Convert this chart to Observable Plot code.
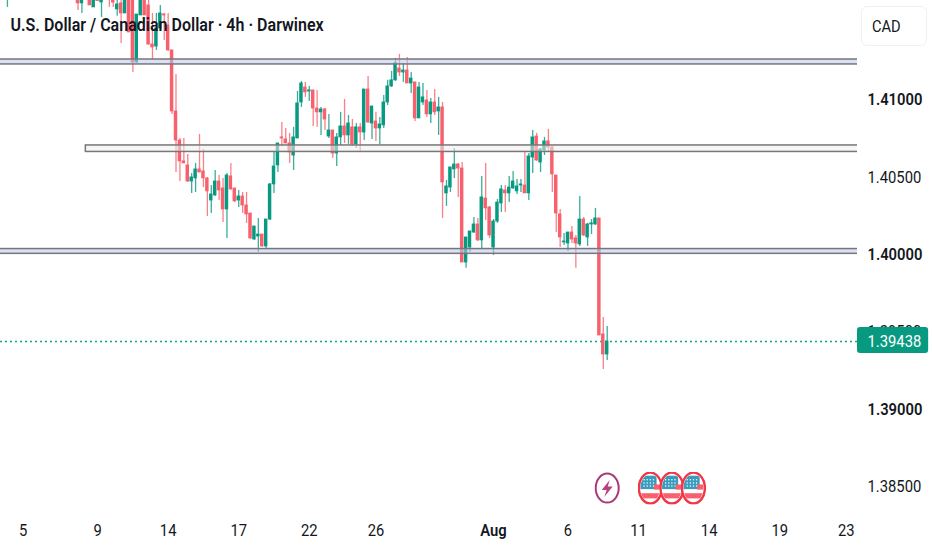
<!DOCTYPE html>
<html><head><meta charset="utf-8">
<script src="https://cdn.jsdelivr.net/npm/d3@7"></script>
<script src="https://cdn.jsdelivr.net/npm/@observablehq/plot@0.6"></script>
<style>
html,body{margin:0;padding:0;background:#fff;overflow:hidden;width:932px;height:550px}
#wrap{position:relative;width:932px;height:550px}
#cad{position:absolute;left:861px;top:6px;width:66px;height:40px;box-sizing:border-box;border:1px solid #f0f0f0;border-radius:6px;font:17px Roboto,sans-serif;color:#131722;line-height:39px;padding-left:10px}
#cad span{display:inline-block;transform:scaleX(.86);transform-origin:left center}
</style></head><body>
<div id="wrap"><div id="chart"></div><div id="cad"><span>CAD</span></div></div>
<script>
// Candles, 4h bars. barIndex counts trading bars, open/high/low/close are prices.
const barIndex = [-5, ...d3.range(13, 149)];
const open = [1.41680,1.41700,1.41625,1.41700,1.41720,1.41599,1.41700,1.41631,1.41720,1.41680,1.41650,1.41586,1.41625,1.41560,1.41660,1.41660,1.41243,1.41547,1.41660,1.41612,1.41359,1.41346,1.41463,1.41553,1.41482,1.41321,1.40926,1.40738,1.40603,1.40577,1.40473,1.40493,1.40551,1.40538,1.40493,1.40350,1.40383,1.40473,1.40428,1.40292,1.40506,1.40428,1.40350,1.40376,1.40318,1.40266,1.40098,1.40117,1.40130,1.40053,1.40227,1.40454,1.40577,1.40758,1.40745,1.40719,1.40641,1.40751,1.40984,1.41081,1.41055,1.41062,1.40945,1.40920,1.40939,1.40764,1.40803,1.40654,1.40758,1.40829,1.40771,1.40823,1.40713,1.40823,1.40790,1.41068,1.40848,1.40861,1.40816,1.40836,1.40984,1.41088,1.41127,1.41204,1.41178,1.41191,1.41107,1.41114,1.40881,1.40984,1.40997,1.40907,1.40984,1.40926,1.40952,1.40396,1.40434,1.40551,1.40583,1.40557,1.39949,1.40046,1.40143,1.40195,1.40092,1.40363,1.40305,1.40046,1.40214,1.40331,1.40415,1.40396,1.40428,1.40409,1.40447,1.40447,1.40396,1.40628,1.40764,1.40596,1.40674,1.40732,1.40693,1.40512,1.40260,1.40079,1.40072,1.40143,1.40105,1.40066,1.40227,1.40111,1.40195,1.40195,1.40234,1.39484,1.39354];
const high = [1.41720,1.41720,1.41720,1.41730,1.41730,1.41710,1.41710,1.41720,1.41730,1.41690,1.41680,1.41650,1.41650,1.41680,1.41680,1.41680,1.41553,1.41680,1.41680,1.41644,1.41560,1.41560,1.41612,1.41560,1.41560,1.41321,1.41165,1.40751,1.40751,1.40648,1.40525,1.40590,1.40777,1.40680,1.40499,1.40447,1.40544,1.40512,1.40493,1.40525,1.40590,1.40428,1.40415,1.40402,1.40402,1.40266,1.40182,1.40234,1.40130,1.40227,1.40460,1.40661,1.40719,1.40855,1.40816,1.40784,1.40823,1.41055,1.41120,1.41114,1.41088,1.41062,1.41062,1.40952,1.40945,1.40907,1.40803,1.40784,1.40920,1.41004,1.40900,1.40874,1.40848,1.40848,1.41068,1.41152,1.40958,1.40920,1.40887,1.41029,1.41127,1.41185,1.41269,1.41295,1.41237,1.41275,1.41178,1.41114,1.41114,1.41107,1.41062,1.41010,1.41068,1.41017,1.40984,1.40480,1.40564,1.40687,1.40590,1.40596,1.40111,1.40150,1.40240,1.40234,1.40506,1.40590,1.40312,1.40227,1.40357,1.40447,1.40447,1.40506,1.40538,1.40486,1.40486,1.40661,1.40654,1.40803,1.40784,1.40687,1.40758,1.40810,1.40700,1.40512,1.40292,1.40137,1.40143,1.40182,1.40124,1.40376,1.40240,1.40202,1.40227,1.40299,1.40234,1.39594,1.39535];
const low = [1.41599,1.41579,1.41560,1.41660,1.41612,1.41599,1.41640,1.41534,1.41660,1.41599,1.41599,1.41541,1.41366,1.41560,1.41437,1.41178,1.41237,1.41547,1.41547,1.41353,1.41256,1.41321,1.41463,1.41385,1.41314,1.40907,1.40531,1.40473,1.40590,1.40467,1.40396,1.40402,1.40531,1.40434,1.40247,1.40266,1.40376,1.40350,1.40208,1.40105,1.40415,1.40337,1.40305,1.40266,1.40202,1.40098,1.40092,1.40014,1.40046,1.40040,1.40221,1.40396,1.40531,1.40700,1.40719,1.40590,1.40544,1.40751,1.40952,1.41017,1.40991,1.40829,1.40823,1.40771,1.40803,1.40751,1.40622,1.40570,1.40706,1.40719,1.40713,1.40700,1.40687,1.40667,1.40738,1.40848,1.40745,1.40732,1.40713,1.40816,1.40965,1.41081,1.41120,1.41152,1.41114,1.41107,1.41042,1.40861,1.40881,1.40965,1.40887,1.40848,1.40900,1.40771,1.40234,1.40312,1.40402,1.40493,1.40370,1.39949,1.39911,1.40014,1.40137,1.40085,1.40040,1.40221,1.40105,1.39995,1.40202,1.40273,1.40273,1.40337,1.40422,1.40389,1.40402,1.40396,1.40350,1.40525,1.40603,1.40531,1.40641,1.40661,1.40402,1.40143,1.40046,1.40059,1.40020,1.40072,1.39911,1.40053,1.40117,1.40053,1.40130,1.40189,1.39477,1.39257,1.39315];
const close = [1.41700,1.41625,1.41700,1.41720,1.41612,1.41700,1.41640,1.41700,1.41680,1.41650,1.41630,1.41618,1.41560,1.41660,1.41437,1.41243,1.41553,1.41660,1.41547,1.41359,1.41340,1.41463,1.41560,1.41547,1.41321,1.40926,1.40738,1.40603,1.40590,1.40473,1.40499,1.40551,1.40531,1.40493,1.40409,1.40389,1.40473,1.40415,1.40292,1.40512,1.40422,1.40344,1.40376,1.40318,1.40260,1.40105,1.40182,1.40130,1.40053,1.40227,1.40454,1.40570,1.40719,1.40751,1.40719,1.40661,1.40758,1.40978,1.41107,1.41049,1.41062,1.40945,1.40920,1.40939,1.40874,1.40803,1.40654,1.40758,1.40829,1.40771,1.40848,1.40713,1.40823,1.40790,1.41068,1.40855,1.40958,1.40816,1.40842,1.40984,1.41088,1.41127,1.41237,1.41178,1.41191,1.41107,1.41139,1.40881,1.41081,1.41017,1.40907,1.40984,1.40920,1.40952,1.40467,1.40441,1.40564,1.40583,1.40557,1.39949,1.40111,1.40150,1.40195,1.40092,1.40370,1.40299,1.40124,1.40214,1.40337,1.40422,1.40396,1.40434,1.40473,1.40441,1.40454,1.40396,1.40635,1.40758,1.40609,1.40680,1.40732,1.40693,1.40519,1.40266,1.40111,1.40085,1.40143,1.40098,1.40072,1.40227,1.40124,1.40195,1.40202,1.40234,1.39477,1.39354,1.39438];

const lastPrice = 1.39438;
const zones = [
  {from:-8, to:214, lo:1.41230, hi:1.41262, fill:"#b9c6f2"},
  {from:15, to:214, lo:1.40664, hi:1.40706, fill:"#efefef"},
  {from:-8, to:214, lo:1.40005, hi:1.40036, fill:"#b9c6f2"}
];
const priceTicksBold = [1.41, 1.40, 1.39];
const priceTicksPlain = [1.405, 1.395, 1.385];
const dateTicks = [-1, 18, 36, 54, 72, 89, 138, 156, 174, 192, 209];
const dateLabels = ["5","9","14","17","22","26","6","11","14","19","23"];
const monthTicks = [119];
const monthLabels = ["Aug"];
const flagEvents = [159, 164.5, 170];
const boltEvents = [148];
const title = "U.S. Dollar / Canadian Dollar · 4h · Darwinex";

const RED = "#f7606c", GREEN = "#089981";
const bars = barIndex.map((i, k) => ({i, o:open[k], h:high[k], l:low[k], c:close[k]}));
const col = d => d.c >= d.o ? GREEN : RED;

const svgUri = s => "data:image/svg+xml," + encodeURIComponent(s);
let dots = "";
for (const cx of [6,9,12,15]) for (const cy of [8,11,14]) dots += `<circle cx="${cx}" cy="${cy}" r=".7" fill="#fff"/>`;
const flagIcon = svgUri(`<svg xmlns="http://www.w3.org/2000/svg" viewBox="0 0 24 32"><defs><clipPath id="c"><ellipse cx="12" cy="16" rx="9.5" ry="13.5"/></clipPath></defs><ellipse cx="12" cy="16" rx="11" ry="15" fill="#fff" stroke="#f23645" stroke-width="2.4"/><g clip-path="url(#c)"><rect x="0" y="4" width="18" height="13" fill="#3a9bbd"/>${dots}<rect x="15.5" y="12.5" width="10" height="5" fill="#f7606c"/><rect x="0" y="21" width="24" height="5" fill="#f7606c"/></g></svg>`);
const boltIcon = svgUri(`<svg xmlns="http://www.w3.org/2000/svg" viewBox="0 0 26 32"><ellipse cx="13" cy="16" rx="11.5" ry="14.5" fill="#fff" stroke="#a83a7a" stroke-width="2"/><path d="M15.5 8 L7.5 18 H12.5 L10 25 L18.5 14.5 H13.5 Z" fill="#b83f80"/></svg>`);

const axisFont = 17;
const chart = Plot.plot({
  width: 932, height: 550,
  marginTop: 0, marginLeft: 0, marginRight: 75, marginBottom: 38,
  style: {fontFamily: "Roboto, sans-serif", background: "#fff", color: "#131722"},
  x: {type: "linear", domain: [-6.77, 211.85], axis: null},
  y: {domain: [1.38332, 1.416436], axis: null},
  marks: [
    Plot.ruleY([lastPrice], {stroke: "#0aa58c", strokeDasharray: "2 3", strokeWidth: 1.6}),
    Plot.ruleX(bars, {x: "i", y1: "l", y2: "h", stroke: col, strokeWidth: 1.3, strokeOpacity: 0.8}),
    Plot.rect(bars, {x1: d => d.i - 0.44, x2: d => d.i + 0.44, y1: d => Math.min(d.o, d.c), y2: d => Math.max(d.o, d.c), fill: col, insetTop: -0.4, insetBottom: -0.4}),
    Plot.rect(zones, {x1: "from", x2: "to", y1: "lo", y2: "hi", fill: "fill", fillOpacity: 0.55, stroke: "#777", strokeWidth: 1.5, clip: "frame"}),
    Plot.axisX(dateTicks, {anchor: "bottom", tickSize: 0, tickPadding: 11, fontSize: axisFont, fontWeight: 400, tickFormat: i => dateLabels[dateTicks.indexOf(i)], label: null}),
    Plot.axisX(monthTicks, {anchor: "bottom", tickSize: 0, tickPadding: 11, fontSize: axisFont, fontWeight: 600, tickFormat: i => monthLabels[monthTicks.indexOf(i)], label: null}),
    Plot.axisY(priceTicksPlain, {anchor: "right", tickSize: 0, tickPadding: 10, fontSize: axisFont, fontWeight: 400, tickFormat: d3.format(".5f"), label: null}),
    Plot.axisY(priceTicksBold, {anchor: "right", tickSize: 0, tickPadding: 10, fontSize: axisFont, fontWeight: 600, tickFormat: d3.format(".5f"), label: null}),
    Plot.rect([lastPrice], {x1: 211.85, x2: 230, y1: 1.39361, y2: 1.39529, fill: GREEN, rx: 3}),
    Plot.text([lastPrice], {x: 211.85, y: d => d, text: d3.format(".5f"), fill: "#fff", fontSize: axisFont, textAnchor: "start", dx: 10}),
    Plot.image(boltEvents, {x: d => d, y: () => 1.38490, src: () => boltIcon, width: 26, height: 32, preserveAspectRatio: "none"}),
    Plot.image(flagEvents, {x: d => d, y: () => 1.38490, src: () => flagIcon, width: 25, height: 33, preserveAspectRatio: "none"}),
    Plot.text([title], {frameAnchor: "top-left", dx: 10, dy: 18, text: d => d, fontSize: 18, fontWeight: 600, fill: "#131722", textAnchor: "start", lineAnchor: "top"})
  ]
});
document.getElementById("chart").appendChild(chart);
// The reference's type is tall and narrow: keep the glyph height, compress the run width.
d3.select(chart).selectAll("text").each(function () {
  const w = this.getComputedTextLength();
  const k = this.textContent === title ? 0.89 : 0.87;
  if (w > 0) { this.setAttribute("textLength", (w * k).toFixed(1)); this.setAttribute("lengthAdjust", "spacingAndGlyphs"); }
});
</script>
</body></html>
